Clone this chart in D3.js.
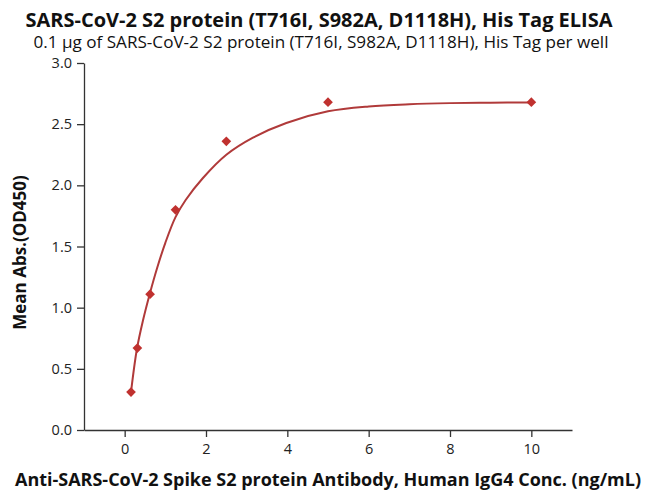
<!DOCTYPE html>
<html>
<head>
<meta charset="utf-8">
<script src="https://cdn.jsdelivr.net/npm/d3@7"></script>
<style>
  body { margin: 0; background: #fff; }
  text { font-family: "Open Sans", "Liberation Sans", sans-serif; }
</style>
</head>
<body>
<svg id="chart" width="645" height="491"></svg>
<script>
// measured points (conc in ng/mL, OD450)
const concs = [0.156, 0.3125, 0.625, 1.25, 2.5, 5, 10];
const odValues = [0.31, 0.67, 1.11, 1.80, 2.36, 2.68, 2.68];

// fitted curve
const fitX = [0.156, 0.3, 0.45, 0.615, 0.8, 1.0, 1.25, 1.5, 1.925, 2.5, 3.155, 3.975, 5.0, 6.0, 7.0, 8.0, 9.0, 10.0];
const fitY = [0.31, 0.66, 0.895, 1.11, 1.326, 1.53, 1.74, 1.88, 2.06, 2.25, 2.39, 2.51, 2.605, 2.645, 2.663, 2.672, 2.676, 2.678];

const xTicks = [0, 2, 4, 6, 8, 10];
const xMinor = [-1, 1, 3, 5, 7, 9, 11];
const yTicks = [0, 0.5, 1.0, 1.5, 2.0, 2.5, 3.0];
const yMinor = [0.25, 0.75, 1.25, 1.75, 2.25, 2.75];

const title = "SARS-CoV-2 S2 protein (T716I, S982A, D1118H), His Tag ELISA";
const subtitle = "0.1 \u03bcg of SARS-CoV-2 S2 protein (T716I, S982A, D1118H), His Tag per well";
const xLabel = "Anti-SARS-CoV-2 Spike S2 protein Antibody, Human IgG4 Conc. (ng/mL)";
const yLabel = "Mean Abs.(OD450)";

const svg = d3.select("#chart");
const margin = {top: 63, right: 73, bottom: 61, left: 84};
const width = +svg.attr("width");
const height = +svg.attr("height");

const x = d3.scaleLinear().domain([-1, 11]).range([margin.left, width - margin.right]);
const y = d3.scaleLinear().domain([0, 3]).range([height - margin.bottom, margin.top]);

const axisColor = "#333";
const lineColor = "#b03a3a";
const markColor = "#c0312f";

// x axis
const gx = svg.append("g")
    .attr("transform", `translate(0,${height - margin.bottom})`);
gx.call(d3.axisBottom(x).tickValues(xMinor).tickSize(4).tickFormat("").tickSizeOuter(0));
gx.call(d3.axisBottom(x).tickValues(xTicks).tickSize(7).tickPadding(7).tickFormat(d3.format("d")).tickSizeOuter(0));
gx.selectAll("path, line").attr("stroke", axisColor).attr("stroke-width", 1.3);
gx.selectAll("text").attr("font-size", 14.5).attr("fill", "#222");

// y axis
const gy = svg.append("g")
    .attr("transform", `translate(${margin.left},0)`);
gy.call(d3.axisLeft(y).tickValues(yMinor).tickSize(4).tickFormat("").tickSizeOuter(0));
gy.call(d3.axisLeft(y).tickValues(yTicks).tickSize(7).tickPadding(5).tickFormat(d3.format(".1f")).tickSizeOuter(0));
gy.selectAll("path, line").attr("stroke", axisColor).attr("stroke-width", 1.3);
gy.selectAll("text").attr("font-size", 14.5).attr("fill", "#222");

// fitted curve
const fit = fitX.map((d, i) => ({x: d, y: fitY[i]}));
const line = d3.line()
    .x(d => x(d.x))
    .y(d => y(d.y))
    .curve(d3.curveCatmullRom.alpha(0.5));

svg.append("path")
    .datum(fit)
    .attr("fill", "none")
    .attr("stroke", lineColor)
    .attr("stroke-width", 2)
    .attr("d", line);

// diamond markers
const pts = concs.map((c, i) => ({x: c, y: odValues[i]}));
svg.selectAll(".pt")
    .data(pts)
    .enter().append("path")
    .attr("class", "pt")
    .attr("transform", d => `translate(${x(d.x)},${y(d.y)})`)
    .attr("d", d3.symbol().type(d3.symbolDiamond2).size(60))
    .attr("fill", markColor);

// titles
svg.append("text")
    .attr("x", 319).attr("y", 27)
    .attr("text-anchor", "middle")
    .attr("font-size", 19).attr("font-weight", "bold").attr("fill", "#111")
    .attr("textLength", 587).attr("lengthAdjust", "spacingAndGlyphs")
    .text(title);

svg.append("text")
    .attr("x", 321).attr("y", 48)
    .attr("text-anchor", "middle")
    .attr("font-size", 15.5).attr("fill", "#111")
    .attr("textLength", 575).attr("lengthAdjust", "spacingAndGlyphs")
    .text(subtitle);

svg.append("text")
    .attr("x", 328).attr("y", 486)
    .attr("text-anchor", "middle")
    .attr("font-size", 17).attr("font-weight", "bold").attr("fill", "#111")
    .attr("textLength", 626).attr("lengthAdjust", "spacingAndGlyphs")
    .text(xLabel);

svg.append("text")
    .attr("transform", `translate(26,${(margin.top + height - margin.bottom) / 2 + 6}) rotate(-90)`)
    .attr("text-anchor", "middle")
    .attr("font-size", 17).attr("font-weight", "bold").attr("fill", "#111")
    .text(yLabel);
</script>
</body>
</html>
